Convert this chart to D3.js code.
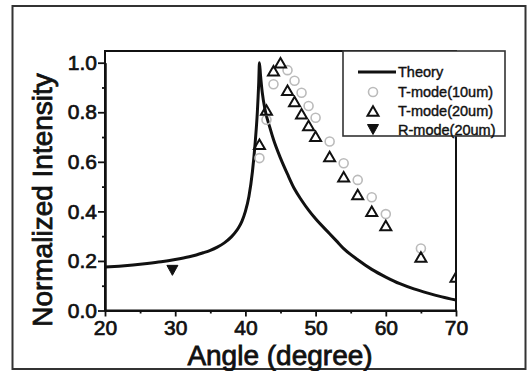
<!DOCTYPE html>
<html>
<head>
<meta charset="utf-8">
<script src="https://cdn.jsdelivr.net/npm/d3@7"></script>
<style>
  html, body { margin: 0; padding: 0; background: #fff; }
  svg { display: block; }
  text { font-family: "Liberation Sans", Arial, sans-serif; fill: #111; }
</style>
</head>
<body>
<svg id="chart" width="528" height="371"></svg>
<script>
// ---- data ----
const theoryAngle = [20, 22, 24, 26, 28, 30, 32, 33, 34, 35, 36, 37, 38, 38.5, 39, 39.5, 40, 40.5, 41, 41.4, 41.7, 41.9, 42, 42.15, 42.4, 42.8, 43.5, 44, 45, 46, 47, 48, 49, 50, 52, 53, 54, 56, 58, 60, 62, 64, 66, 68, 70];
const theoryValue = [0.175, 0.179, 0.184, 0.19, 0.197, 0.206, 0.217, 0.224, 0.233, 0.243, 0.256, 0.273, 0.297, 0.313, 0.333, 0.36, 0.4, 0.46, 0.56, 0.68, 0.8, 0.92, 1.0, 0.95, 0.88, 0.81, 0.737, 0.69, 0.615, 0.55, 0.49, 0.445, 0.405, 0.37, 0.31, 0.28, 0.25, 0.205, 0.166, 0.135, 0.108, 0.087, 0.07, 0.055, 0.042];

const t10Angle = [42, 43, 44, 46, 47, 48, 49, 50, 52, 54, 56, 58, 60, 65];
const t10Value = [0.615, 0.77, 0.913, 0.97, 0.927, 0.879, 0.825, 0.778, 0.682, 0.594, 0.527, 0.457, 0.389, 0.25];

const t20Angle = [42, 43, 44, 45, 46, 47, 48, 49, 50, 52, 54, 56, 58, 60, 65, 70];
const t20Value = [0.671, 0.809, 0.968, 1.0, 0.889, 0.843, 0.794, 0.747, 0.703, 0.621, 0.54, 0.468, 0.401, 0.343, 0.216, 0.135];

const rAngle = [29.6];
const rValue = [0.162];

const xMajorTicks = [20, 30, 40, 50, 60, 70];
const xMinorTicks = [25, 35, 45, 55, 65];
const yMajorTicks = [0.0, 0.2, 0.4, 0.6, 0.8, 1.0];
const yMinorTicks = [0.1, 0.3, 0.5, 0.7, 0.9];

const legendLabels = ["Theory", "T-mode(10um)", "T-mode(20um)", "R-mode(20um)"];
const xTitle = "Angle (degree)";
const yTitle = "Normalized Intensity";

// ---- layout ----
const L = 105, R = 456, T = 51, B = 310.5;
const svg = d3.select("#chart");

const x = d3.scaleLinear().domain([20, 70]).range([L, R]);
const y = d3.scaleLinear().domain([0, 1.0]).range([B, 62.7]);

// outer frame
svg.append("rect").attr("x", 12.5).attr("y", 6).attr("width", 513).attr("height", 363)
  .attr("fill", "#fff").attr("stroke", "#333").attr("stroke-width", 2);

// clip
svg.append("clipPath").attr("id", "plotclip").append("rect")
  .attr("x", L).attr("y", T - 5).attr("width", R - L).attr("height", B - T + 5);

// plot box
svg.append("rect").attr("x", L).attr("y", T).attr("width", R - L).attr("height", B - T)
  .attr("fill", "none").attr("stroke", "#111").attr("stroke-width", 2);

// axes
function styleAxis(g) {
  g.selectAll(".domain").attr("stroke", "#111").attr("stroke-width", 2);
  g.selectAll(".tick line").attr("stroke", "#111").attr("stroke-width", 1.8);
  g.selectAll(".tick text").style("font-size", "21px").attr("fill", "#111")
    .attr("stroke", "#111").attr("stroke-width", 0.7);
}
const xAxis = svg.append("g").attr("transform", `translate(0,${B})`)
  .call(d3.axisBottom(x).tickValues(xMajorTicks).tickSize(6).tickSizeOuter(0).tickPadding(4).tickFormat(d3.format("d")));
styleAxis(xAxis);
const xMinor = svg.append("g").attr("transform", `translate(0,${B})`)
  .call(d3.axisBottom(x).tickValues(xMinorTicks).tickSize(3).tickSizeOuter(0).tickFormat(""));
styleAxis(xMinor);

const yAxis = svg.append("g").attr("transform", `translate(${L},0)`)
  .call(d3.axisLeft(y).tickValues(yMajorTicks).tickSize(7).tickSizeOuter(0).tickPadding(1).tickFormat(d3.format(".1f")));
styleAxis(yAxis);
const yMinor = svg.append("g").attr("transform", `translate(${L},0)`)
  .call(d3.axisLeft(y).tickValues(yMinorTicks).tickSize(3).tickSizeOuter(0).tickFormat(""));
styleAxis(yMinor);

// titles
svg.append("text").attr("x", 280).attr("y", 365).attr("text-anchor", "middle")
  .style("font-size", "28px").attr("stroke", "#111").attr("stroke-width", 0.8).text(xTitle);
svg.append("text").attr("transform", "translate(52,200) rotate(-90)").attr("text-anchor", "middle")
  .style("font-size", "28px").attr("stroke", "#111").attr("stroke-width", 0.8).text(yTitle);

// marker shapes
function triPath(w, h, down) {
  const s = down ? -1 : 1;
  return `M0,${-s * h / 2}L${w / 2},${s * h / 2}L${-w / 2},${s * h / 2}Z`;
}

const plot = svg.append("g").attr("clip-path", "url(#plotclip)");

// theory line
const theory = theoryAngle.map((a, i) => [a, theoryValue[i]]);
plot.append("path").datum(theory)
  .attr("fill", "none").attr("stroke", "#111").attr("stroke-width", 3)
  .attr("d", d3.line().x(d => x(d[0])).y(d => y(d[1])).curve(d3.curveMonotoneX));

// T-mode 10um circles
plot.selectAll("circle.t10").data(t10Angle.map((a, i) => [a, t10Value[i]])).join("circle")
  .attr("class", "t10").attr("cx", d => x(d[0])).attr("cy", d => y(d[1])).attr("r", 4.5)
  .attr("fill", "none").attr("stroke", "#bbbbbb").attr("stroke-width", 1.6);

// T-mode 20um triangles
plot.selectAll("path.t20").data(t20Angle.map((a, i) => [a, t20Value[i]])).join("path")
  .attr("class", "t20").attr("transform", d => `translate(${x(d[0])},${y(d[1])})`)
  .attr("d", triPath(11, 9.5, false))
  .attr("fill", "none").attr("stroke", "#111").attr("stroke-width", 2).attr("stroke-linejoin", "miter");

// R-mode filled down triangles
plot.selectAll("path.r").data(rAngle.map((a, i) => [a, rValue[i]])).join("path")
  .attr("class", "r").attr("transform", d => `translate(${x(d[0])},${y(d[1])})`)
  .attr("d", triPath(11, 10, true))
  .attr("fill", "#111").attr("stroke", "#111").attr("stroke-width", 1);

// legend
const lg = svg.append("g");
lg.append("rect").attr("x", 343).attr("y", T).attr("width", 162).attr("height", 85)
  .attr("fill", "#fff").attr("stroke", "#333").attr("stroke-width", 1.6);
const rowY = [72, 92, 111, 129.5];
const symX = 373, txtX = 398;
lg.append("line").attr("x1", 358).attr("x2", 396).attr("y1", rowY[0]).attr("y2", rowY[0])
  .attr("stroke", "#111").attr("stroke-width", 3);
lg.append("circle").attr("cx", symX).attr("cy", rowY[1]).attr("r", 4.5)
  .attr("fill", "none").attr("stroke", "#bbbbbb").attr("stroke-width", 1.6);
lg.append("path").attr("transform", `translate(${symX},${rowY[2]})`).attr("d", triPath(11, 9.5, false))
  .attr("fill", "none").attr("stroke", "#111").attr("stroke-width", 2);
lg.append("path").attr("transform", `translate(${symX},${rowY[3]})`).attr("d", triPath(11, 10, true))
  .attr("fill", "#111").attr("stroke", "#111").attr("stroke-width", 1);
lg.selectAll("text.lab").data(legendLabels).join("text").attr("class", "lab")
  .attr("x", txtX).attr("y", (d, i) => rowY[i]).attr("dy", "0.36em")
  .style("font-size", "14.5px").attr("stroke", "#111").attr("stroke-width", 0.4).text(d => d);
</script>
</body>
</html>
